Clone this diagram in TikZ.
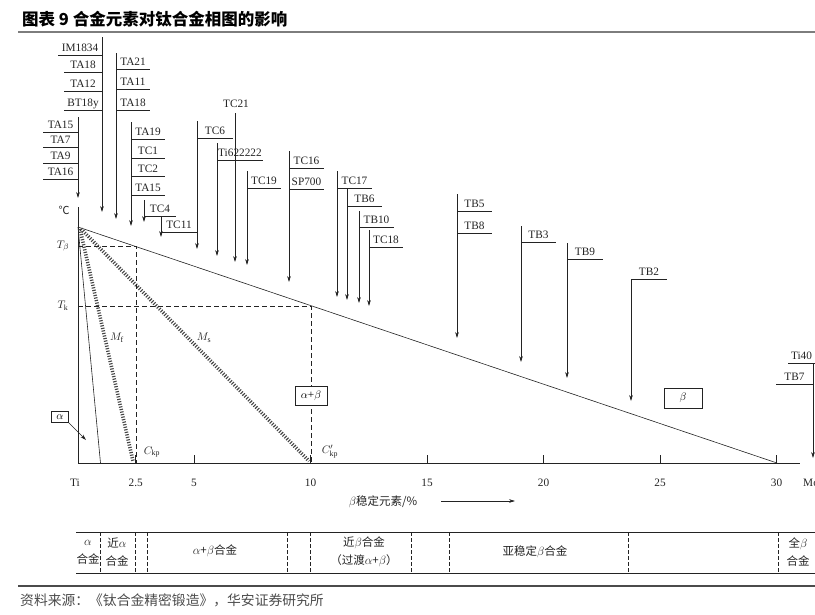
\documentclass[tikz,border=0pt]{standalone}
\usepackage{fontspec}
\setmainfont{Liberation Serif}
\newfontfamily\cjk{Noto Sans CJK SC}
\usetikzlibrary{arrows.meta, positioning}
\definecolor{inkgray}{RGB}{35,35,35}
\definecolor{rulegray}{RGB}{125,125,125}
\definecolor{notegray}{RGB}{75,75,75}

\begin{document}
\begin{tikzpicture}[x=1pt, y=-1pt,
  lbl/.style={font=\fontsize{11.3}{13}\selectfont, text=inkgray, inner sep=0pt},
  bar/.style={draw=inkgray, line width=0.6pt},
  pin/.style={bar, -{Stealth[length=6pt, width=3.6pt]}},
  guide/.style={draw=inkgray, line width=0.6pt, dash pattern=on 5pt off 3pt},
  hatch/.style={draw=inkgray!85, line width=3.6pt, dash pattern=on 1.1pt off 1.5pt},
  phase/.style={draw=inkgray, fill=white, line width=0.6pt, inner sep=0pt,
                font=\fontsize{11.3}{13}\selectfont},
  cell/.style={font=\cjk\fontsize{11.5}{18}\selectfont, text=inkgray, align=center, inner sep=0pt}
]
  \useasboundingbox (0,0) rectangle (815,614);

  % title and rules
  \node[anchor=base west, inner sep=0pt, font=\cjk\bfseries\fontsize{16.5}{18}\selectfont] (title) at (22,25)
    {图表 9\ 合金元素对钛合金相图的影响};
  \draw[rulegray, line width=2pt] (18,32) -- (815,32);
  \draw[notegray, line width=1.2pt] (18,586) -- (815,586);
  \node[anchor=base west, inner sep=0pt, text=notegray, font=\cjk\fontsize{13.8}{15}\selectfont] (source) at (20,605)
    {资料来源：《钛合金精密锻造》，华安证券研究所};

  % axes
  \coordinate (o) at (78,463);
  \coordinate (ytop) at (78,207);
  \coordinate (xend) at (800,463);
  \draw[bar] (ytop) -- (o) -- (xend);
  \foreach \v in {2.5,5,10,15,20,25,30}
    \draw[bar] ({77.5+23.3*\v},463) -- ++(0,-8);
  \foreach \v/\t in {2.5/2.5, 5/5, 10/10, 15/15, 20/20, 25/25, 30/30}
    \node[lbl] (tick-\t) at ({77.5+23.3*\v},483) {\t};
  \node[lbl] (ti) at (75,483) {Ti};
  \node[lbl, anchor=west] (mo) at (803,483) {Mo};
  \node[lbl, font=\cjk\fontsize{11}{12}\selectfont] (celsius) at (64,210) {℃};
  \node[lbl] (tbeta) at (63,246) {$T_\beta$};
  \node[lbl] (tk) at (63,306) {$T_\mathrm{k}$};
  \node[lbl, font=\cjk\fontsize{11.5}{12}\selectfont] (xlabel) at (383,502) {$\beta$稳定元素/\%};
  \coordinate (xa) at (441,501);
  \coordinate (xb) at (515,501);
  \draw[pin] (xa) -- (xb);

  % phase boundaries
  \coordinate (top) at (78,227);
  \coordinate (mo30) at (777,463);
  \coordinate (abnd) at (100.5,463);
  \draw[bar] (top) -- (mo30);
  \draw[bar] (top) -- (abnd);
  \draw[hatch] (80,229) -- (133,461);
  \draw[hatch] (81,229) -- (309,461);
  \draw[guide] (78,246) -- (136,246) -- (136,463);
  \draw[guide] (78,306) -- (311,306) -- (311,463);
  \node[lbl] (mf) at (117,338) {$M_\mathrm{f}$};
  \node[lbl] (ms) at (204,338) {$M_\mathrm{s}$};
  \node[lbl] (ckp) at (152,452) {$C_\mathrm{kp}$};
  \node[lbl] (ckp2) at (330,452) {$C'_\mathrm{kp}$};
  \node[phase, minimum width=17, minimum height=11] (abox) at (60,417) {$\alpha$};
  \coordinate (aend) at (86,440);
  \draw[pin] (abox.south east) -- (aend);
  \node[phase, minimum width=32, minimum height=19] (abbox) at (311,396) {$\alpha$+$\beta$};
  \node[phase, minimum width=38, minimum height=20] (bbox) at (683,398) {$\beta$};

  % alloy grades: one arrow per group
  \foreach \id/\x/\ya/\yb in {a/78/117/198, b/102/37/212, c/116/53/219, d/131/122/226,
      e/144/200/222, f/161/217/237, g/197/121/249, h/235/113/262, i/217/143/256,
      j/247/171/265, k/289/151/282, l/337/171/297, m/347/189/300, n/359/211/303,
      o/369/230/306, p/457/194/338, q/521/226/362, r/567/243/378, s/631/279/401,
      t/813/363/458} {
    \coordinate (\id-top) at (\x,\ya);
    \coordinate (\id-end) at (\x,\yb);
    \draw[pin] (\id-top) -- (\id-end);
  }
  % grade names over their underlines
  \foreach \id/\txt/\xa/\xb/\y in {a1/TA15/43/78/132, a2/TA7/43/78/147, a3/TA9/43/78/163,
      a4/TA16/43/78/179, b1/IM1834/58/102/55, b2/TA18/64/102/72, b3/TA12/64/102/91,
      b4/BT18y/64/102/110, c1/TA21/116/150/69, c2/TA11/116/150/89, c3/TA18/116/150/110,
      d1/TA19/131/165/139, d2/TC1/131/165/158, d3/TC2/131/165/176, d4/TA15/131/165/195,
      e1/TC4/144/176/216, f1/TC11/161/197/232, g1/TC6/197/233/138, i1/Ti622222/217/263/160,
      j1/TC19/247/281/188, k1/TC16/289/324/168, k2/SP700/289/324/189, l1/TC17/337/372/188,
      m1/TB6/347/382/206, n1/TB10/359/394/227, o1/TC18/369/403/247, p1/TB5/457/492/211,
      p2/TB8/457/492/233, q1/TB3/521/556/242, r1/TB9/567/603/259, s1/TB2/631/667/279,
      t1/Ti40/788/815/363, t2/TB7/776/813/384} {
    \draw[bar] (\xa,\y) -- (\xb,\y);
    \node[lbl, anchor=base] (\id) at ({(\xa+\xb)/2},{\y-4}) {\txt};
  }
  \node[lbl, anchor=base] (h1) at (236,107) {TC21};

  % alloy classes
  \draw[bar] (76,532) -- (815,532);
  \draw[bar] (76,573) -- (815,573);
  \foreach \x in {100,135,147,287,310,411,449,628,778}
    \draw[bar, dash pattern=on 4pt off 2pt] (\x,532) -- (\x,573);
  \node[cell] (c-a) at (88,552) {$\alpha$\\合金};
  \node[cell] (c-na) at (117,552) {近$\alpha$\\合金};
  \node[cell] (c-ab) at (215,551) {$\alpha$+$\beta$合金};
  \node[cell] (c-nb) at (364,552) {近$\beta$合金\\（过渡$\alpha$+$\beta$）};
  \node[cell] (c-mb) at (535,552) {亚稳定$\beta$合金};
  \node[cell] (c-b) at (798,552) {全$\beta$\\合金};
\end{tikzpicture}
\end{document}
